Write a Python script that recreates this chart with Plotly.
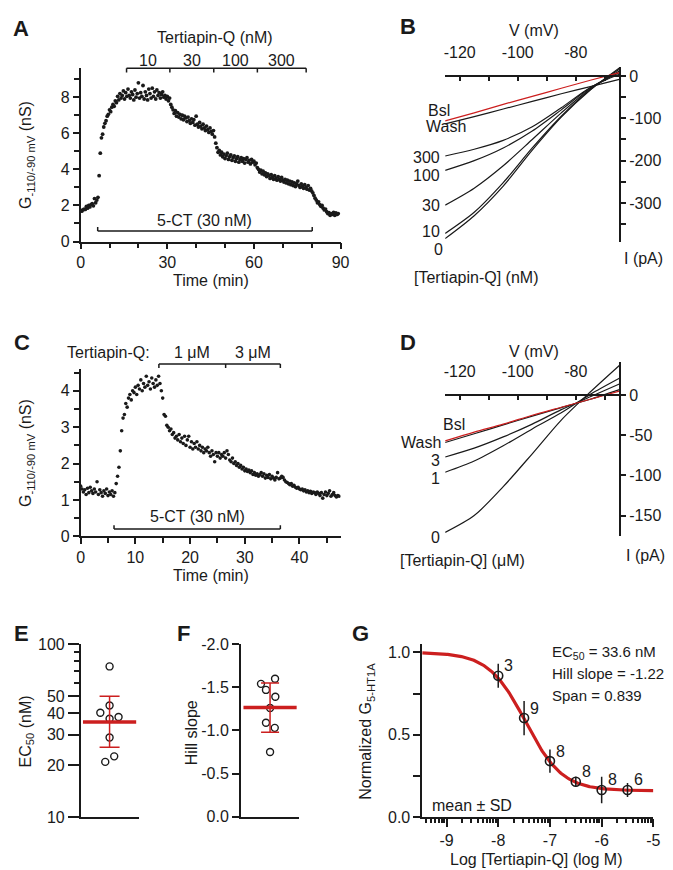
import math
import plotly.graph_objects as go

W, H = 673, 870
FONT = "Liberation Sans, Arial, Helvetica, sans-serif"
INK = "#1a1a1a"
RED = "#cc1f1f"

# ---------------- data ----------------
# Panel A : conductance time course (sampled every 0.4 min)
a_step = 0.4
a_G = [1.72, 1.68, 1.75, 1.80, 1.78, 1.95, 1.85, 2.00, 1.92, 2.05, 2.10, 1.98, 2.38, 2.15, 2.30,
       2.45, 3.65, 4.90, 5.75, 5.95, 6.35, 6.55, 6.70, 6.95, 7.05, 7.30, 7.20, 7.45, 7.60, 7.50,
       7.80, 7.70, 8.05, 7.85, 8.20, 7.95, 8.10, 8.35, 7.90, 8.25, 8.05, 8.45, 8.10, 7.95, 8.30,
       8.15, 7.85, 8.40, 8.00, 8.20, 8.80, 7.95, 8.25, 8.05, 8.65, 7.90, 8.30, 8.10, 7.85, 8.45,
       8.20, 7.95, 8.50, 8.05, 8.30, 7.90, 8.40, 8.10, 8.25, 7.95, 8.15, 8.30, 8.00, 8.10, 7.90,
       8.05, 7.80, 7.95, 7.60, 7.45, 7.30, 7.10, 7.25, 6.95, 7.15, 6.90, 7.05, 6.80, 7.00, 6.75,
       6.95, 6.85, 6.65, 6.90, 6.70, 6.55, 6.80, 6.60, 6.75, 6.45, 6.95, 6.50, 6.35, 6.60, 6.40,
       6.25, 6.50, 6.30, 6.15, 6.40, 6.20, 6.05, 6.30, 6.10, 5.95, 6.15, 5.80, 5.45, 5.20, 4.95,
       5.05, 4.80, 4.95, 4.70, 4.85, 4.60, 4.75, 4.90, 4.55, 4.70, 4.80, 4.50, 4.65, 4.75, 4.45,
       4.60, 4.70, 4.40, 4.55, 4.65, 4.45, 4.60, 4.35, 4.55, 4.65, 4.40, 4.50, 4.30, 4.55, 4.40,
       4.45, 4.25, 4.35, 4.10, 4.00, 3.85, 3.95, 3.75, 3.90, 3.70, 3.80, 3.60, 3.75, 3.65, 3.50,
       3.70, 3.55, 3.45, 3.65, 3.50, 3.40, 3.60, 3.45, 3.35, 3.55, 3.40, 3.30, 3.45, 3.25, 3.40,
       3.20, 3.35, 3.15, 3.30, 3.10, 3.25, 3.05, 3.20, 3.35, 3.10, 3.00, 3.20, 3.05, 2.95, 3.15,
       3.00, 2.90, 3.10, 2.85, 2.95, 2.80, 2.70, 2.55, 2.40, 2.30, 2.15, 2.20, 2.05, 1.95, 2.00,
       1.85, 1.75, 1.80, 1.65, 1.55, 1.60, 1.45, 1.55, 1.50, 1.62, 1.45, 1.58, 1.50, 1.55]
a_time = [round(i * a_step, 2) for i in range(len(a_G))]
a_tq_edges = [15.9, 30.9, 46.1, 61.2, 78.1]
a_tq_labels = ["10", "30", "100", "300"]
a_ct_window = [5.9, 80.2]
a_xticks = [0, 30, 60, 90]
a_xminor = [10, 20, 40, 50, 70, 80]
a_yticks = [0, 2, 4, 6, 8]
a_yminor = [1, 3, 5, 7, 9]

# Panel C : conductance time course (sampled every 0.25 min)
c_step = 0.25
c_G = [1.38, 1.30, 1.22, 1.28, 1.15, 1.32, 1.20, 1.35, 1.25, 1.18, 1.30, 1.22, 1.50, 1.15, 1.28,
       1.20, 1.10, 1.25, 1.18, 1.30, 1.12, 1.22, 1.15, 1.25, 1.10,
       1.20, 1.45, 1.65, 1.90, 2.35, 2.90, 3.25, 3.35, 3.65, 3.55, 3.80, 3.90, 3.75, 4.00, 3.95,
       4.10, 3.90, 4.15, 4.05, 4.30, 4.00, 4.20, 4.10, 4.40, 4.15, 4.25, 4.05, 4.35, 4.20, 4.10,
       4.30, 4.15, 4.40, 4.20, 4.00, 3.80, 3.35, 3.30, 3.05, 3.00, 2.90, 2.95, 2.80, 2.85, 2.70,
       2.75, 2.65, 2.80, 2.60, 2.70, 2.55, 2.75, 2.50, 2.65, 2.75, 2.45, 2.60, 2.40, 2.55, 2.45,
       2.60, 2.40, 2.50, 2.35, 2.45, 2.30, 2.40, 2.35, 2.45, 2.30, 2.20, 2.35, 2.25, 2.05, 2.30,
       2.20, 2.30, 2.15, 2.25, 2.20, 2.30, 2.15, 2.35, 2.25, 2.10, 2.05, 2.15, 2.00, 2.05, 1.95,
       2.00, 1.90, 1.95, 1.85, 1.90, 1.80, 1.85, 1.78, 1.82, 1.75, 1.80, 1.70, 1.75, 1.68, 1.72,
       1.65, 1.70, 1.75, 1.65, 1.72, 1.60, 1.68, 1.62, 1.70, 1.58, 1.65, 1.60, 1.55, 1.62, 1.75,
       1.58, 1.60, 1.65, 1.62, 1.55, 1.50, 1.48, 1.45, 1.42, 1.45, 1.38, 1.40, 1.35, 1.32, 1.35,
       1.30, 1.28, 1.30, 1.25, 1.28, 1.22, 1.25, 1.20, 1.24, 1.18, 1.22, 1.20, 1.15, 1.22, 1.18,
       1.12, 1.20, 1.05, 1.15, 1.22, 1.12, 1.18, 1.25, 1.10, 1.15, 1.20, 1.12, 1.08, 1.12, 1.10]
c_time = [round(i * c_step, 2) for i in range(len(c_G))]
c_tq_edges = [14.3, 26.5, 36.5]
c_tq_labels = ["1 μM", "3 μM"]
c_ct_window = [6.1, 36.5]
c_xticks = [0, 10, 20, 30, 40]
c_xminor = [5, 15, 25, 35, 45]
c_yticks = [0, 1, 2, 3, 4]
c_yminor = [0.5, 1.5, 2.5, 3.5, 4.5]

# Panels B and D : I-V ramps (mV -> pA)
iv_V = [-125, -115, -105, -95, -85, -75, -65]
b_bsl = [-106, -87, -67, -48, -29, -10, 8]
b_wash = [-113, -96, -78, -60, -42, -25, -8]
b_300 = [-189, -173, -152, -120, -75, -27, 4]
b_100 = [-223, -200, -170, -130, -80, -28, 8]
b_30 = [-305, -265, -212, -150, -87, -30, 12]
b_10 = [-372, -322, -252, -170, -95, -32, 16]
b_0 = [-384, -330, -260, -175, -97, -33, 19]

d_bsl = [-57, -46, -36, -25, -15, -5, 5]
d_wash = [-59, -48, -37, -26, -15.5, -5, 7]
d_3 = [-77, -66, -52, -36, -18, -2, 14]
d_1 = [-96, -82, -63, -42, -22, 1, 21]
d_0 = [-171, -150, -114, -73, -31, 4, 37]

iv_xticks = [-120, -100, -80]
iv_xticktext = ["-120", "-100", "-80"]
iv_xminor = [-110, -90, -70]
b_yticks = [0, -100, -200, -300]
b_yticktext = ["0", "-100", "-200", "-300"]
b_yminor = [-50, -150, -250, -350]
d_yticks = [0, -50, -100, -150]
d_yticktext = ["0", "-50", "-100", "-150"]

# Panel E : EC50 per cell (nM)
e_ec50 = [74.4, 44.2, 40.2, 37.1, 38.0, 28.9, 22.5, 20.9]
e_jitter = [0, 0, -0.32, 0, 0.31, 0, 0.16, -0.15]
e_mean = 35.5
e_sd_lo = 25.4
e_sd_hi = 50.0
e_yticks = [10, 20, 30, 40, 50, 100]
e_yminor = [60, 70, 80, 90]

# Panel F : Hill slope per cell
f_hill = [-1.60, -1.54, -1.47, -1.39, -1.26, -1.09, -1.03, -0.75]
f_jitter = [0.17, -0.31, -0.14, 0.18, 0, -0.14, 0.16, 0]
f_mean = -1.265
f_sd = 0.285
f_yticks = [-2.0, -1.5, -1.0, -0.5, 0.0]
f_yticktext = ["-2.0", "-1.5", "-1.0", "-0.5", "0.0"]

# Panel G : concentration-response
g_logc = [-8.0, -7.5, -7.0, -6.5, -6.0, -5.5]
g_mean = [0.859, 0.602, 0.341, 0.216, 0.166, 0.166]
g_sd = [0.073, 0.104, 0.070, 0.030, 0.080, 0.042]
g_n = ["3", "9", "8", "8", "8", "6"]
g_ec50_nM = 33.6
g_hill = -1.22
g_span = 0.839
g_top = 1.0
g_xticks = [-9, -8, -7, -6, -5]
g_xticktext = ["-9", "-8", "-7", "-6", "-5"]
g_yticks = [0.0, 0.5, 1.0]
g_yticktext = ["0.0", "0.5", "1.0"]
g_yminor = [0.25, 0.75]
g_xrange = [-9.47, -5.0]

# ---------------- helpers ----------------
def dom_x(a, b):
    return [a / W, b / W]


def dom_y(top, bottom):
    return [1 - bottom / H, 1 - top / H]


def py(p):
    return 1 - p / H


def axis(**kw):
    d = dict(showline=True, linecolor=INK, linewidth=1.5, showgrid=False, zeroline=False,
             ticks="outside", ticklen=6, tickwidth=1.5, tickcolor=INK, tickmode="array",
             tickfont=dict(family=FONT, size=16, color=INK), fixedrange=True)
    d.update(kw)
    return d


def minor(vals, ticks="outside", length=5):
    return dict(tickmode="array", tickvals=vals, ticks=ticks, ticklen=length,
                tickwidth=1.5, tickcolor=INK, showgrid=False)


ann = []


def label(xp, yp, text, size=16, anchor="center", bold=False, angle=0, xref="paper", xdata=None):
    if bold:
        text = "<b>" + text + "</b>"
    ann.append(dict(x=(xdata if xdata is not None else xp / W), y=py(yp),
                    xref=xref, yref="paper", text=text, showarrow=False,
                    xanchor=anchor, yanchor="middle", textangle=angle,
                    font=dict(family=FONT, size=size, color=INK)))


shapes = []


def seg(xref, x0, x1, y0p, y1p):
    shapes.append(dict(type="line", xref=xref, yref="paper", x0=x0, x1=x1,
                       y0=py(y0p), y1=py(y1p), line=dict(color=INK, width=1.5)))


fig = go.Figure()

# ---------------- A ----------------
fig.add_trace(go.Scatter(x=a_time, y=a_G, mode="markers", xaxis="x", yaxis="y",
                         marker=dict(size=3.8, color=INK), hoverinfo="skip"))
# ---------------- C ----------------
fig.add_trace(go.Scatter(x=c_time, y=c_G, mode="markers", xaxis="x3", yaxis="y3",
                         marker=dict(size=3.6, color=INK), hoverinfo="skip"))
# ---------------- B ----------------
for tr in [b_wash, b_300, b_100, b_30, b_10, b_0]:
    fig.add_trace(go.Scatter(x=iv_V, y=tr, mode="lines", xaxis="x2", yaxis="y2",
                             line=dict(color=INK, width=1.2, shape="spline", smoothing=0.8),
                             hoverinfo="skip"))
fig.add_trace(go.Scatter(x=iv_V, y=b_bsl, mode="lines", xaxis="x2", yaxis="y2",
                         line=dict(color=RED, width=1.2, shape="spline", smoothing=0.8),
                         hoverinfo="skip"))
# ---------------- D ----------------
for tr in [d_wash, d_3, d_1, d_0]:
    fig.add_trace(go.Scatter(x=iv_V, y=tr, mode="lines", xaxis="x4", yaxis="y4",
                             line=dict(color=INK, width=1.2, shape="spline", smoothing=0.8),
                             hoverinfo="skip"))
fig.add_trace(go.Scatter(x=iv_V, y=d_bsl, mode="lines", xaxis="x4", yaxis="y4",
                         line=dict(color=RED, width=1.2, shape="spline", smoothing=0.8),
                         hoverinfo="skip"))
# ---------------- E ----------------
fig.add_trace(go.Scatter(x=e_jitter, y=e_ec50, mode="markers", xaxis="x5", yaxis="y5",
                         marker=dict(size=7, color="white", line=dict(color=INK, width=1.4)),
                         hoverinfo="skip"))
fig.add_trace(go.Scatter(x=[0], y=[e_mean], mode="markers", xaxis="x5", yaxis="y5",
                         marker=dict(symbol="line-ew", size=38, color=RED, line=dict(color=RED, width=3.5)),
                         error_y=dict(type="data", symmetric=False, array=[e_sd_hi - e_mean],
                                      arrayminus=[e_mean - e_sd_lo], color=RED, thickness=1.5, width=10),
                         hoverinfo="skip"))
# ---------------- F ----------------
fig.add_trace(go.Scatter(x=f_jitter, y=f_hill, mode="markers", xaxis="x6", yaxis="y6",
                         marker=dict(size=7, color="white", line=dict(color=INK, width=1.4)),
                         hoverinfo="skip"))
fig.add_trace(go.Scatter(x=[0], y=[f_mean], mode="markers", xaxis="x6", yaxis="y6",
                         marker=dict(symbol="line-ew", size=38, color=RED, line=dict(color=RED, width=3.5)),
                         error_y=dict(type="data", array=[f_sd], color=RED, thickness=1.5, width=9),
                         hoverinfo="skip"))
# ---------------- G ----------------
g_logec50 = math.log10(g_ec50_nM * 1e-9)
g_bottom = g_top - g_span
fit_x = [g_xrange[0] + i * (g_xrange[1] - g_xrange[0]) / 300 for i in range(301)]
fit_y = [g_bottom + g_span / (1 + 10 ** ((g_logec50 - x) * g_hill)) for x in fit_x]
fig.add_trace(go.Scatter(x=fit_x, y=fit_y, mode="lines", xaxis="x7", yaxis="y7",
                         line=dict(color=RED, width=3.2), hoverinfo="skip"))
fig.add_trace(go.Scatter(x=g_logc, y=g_mean, mode="markers", xaxis="x7", yaxis="y7",
                         marker=dict(size=9, color="rgba(0,0,0,0)", line=dict(color=INK, width=1.6)),
                         error_y=dict(type="data", array=g_sd, color=INK, thickness=1.5, width=0),
                         hoverinfo="skip"))
for xv, yv, n in zip(g_logc, g_mean, g_n):
    ann.append(dict(x=xv, y=yv, xref="x7", yref="y7", text=n, showarrow=False,
                    xanchor="left", yanchor="middle", xshift=4, yshift=10,
                    font=dict(family=FONT, size=16, color=INK)))

# ---------------- brackets ----------------
# A tertiapin bracket
seg("x", a_tq_edges[0], a_tq_edges[-1], 53.3, 53.3)
for e in a_tq_edges:
    seg("x", e, e, 53.3, 57.5)
for i, t in enumerate(a_tq_labels):
    label(0, 45, t, xref="x", xdata=(a_tq_edges[i] + a_tq_edges[i + 1]) / 2)
# A 5-CT bracket
seg("x", a_ct_window[0], a_ct_window[1], 219.3, 219.3)
for e in a_ct_window:
    seg("x", e, e, 219.3, 215.3)
label(0, 209, "5-CT (30 nM)", xref="x", xdata=sum(a_ct_window) / 2)
# C tertiapin bracket
seg("x3", c_tq_edges[0], c_tq_edges[-1], 355, 355)
for e in c_tq_edges:
    seg("x3", e, e, 355, 359)
for i, t in enumerate(c_tq_labels):
    label(0, 343, t, xref="x3", xdata=(c_tq_edges[i] + c_tq_edges[i + 1]) / 2)
# C 5-CT bracket
seg("x3", c_ct_window[0], c_ct_window[1], 523.3, 523.3)
for e in c_ct_window:
    seg("x3", e, e, 523.3, 519.3)
label(0, 510, "5-CT (30 nM)", xref="x3", xdata=sum(c_ct_window) / 2)

# ---------------- texts ----------------
for letter, xp, yp in [("A", 9.5, 12.5), ("B", 403.5, 11), ("C", 10.5, 332.5), ("D", 403.5, 333.5),
                       ("E", 9.5, 630), ("F", 174.5, 630), ("G", 355, 630)]:
    label(xp, yp, letter, size=22, bold=True)

label(207, 22, "Tertiapin-Q (nM)")
label(203, 270, "Time (min)")
label(15, 142, "G<sub>-110/-90 mV</sub> (nS)", angle=-90)
label(143, 343, "Tertiapin-Q:", anchor="right")
label(203, 571, "Time (min)")
label(15, 446, "G<sub>-110/-90 mV</sub> (nS)", angle=-90)

label(532, 15, "V (mV)")
label(644, 247, "I (pA)")
label(473, 267, "[Tertiapin-Q] (nM)")
label(435, 96, "Bsl")
label(443, 113, "Wash")
label(438, 144, "300", anchor="right")
label(438, 163, "100", anchor="right")
label(438, 193, "30", anchor="right")
label(438, 220, "10", anchor="right")
label(435, 238, "0")

label(532, 342, "V (mV)")
label(646, 550, "I (pA)")
label(459, 555, "[Tertiapin-Q] (μM)")
label(451, 417, "Bsl")
label(417, 435, "Wash")
label(438, 453, "3", anchor="right")
label(438, 472, "1", anchor="right")
label(438, 532, "0", anchor="right")

label(15, 730, "EC<sub>50</sub> (nM)", angle=-90)
label(183, 731, "Hill slope", angle=-90)
label(362, 730, "Normalized G<sub>5-HT1A</sub>", angle=-90)
label(535, 860, "Log [Tertiapin-Q] (log M)")
label(549, 649, "EC<sub>50</sub> = %.1f nM" % g_ec50_nM, anchor="left", size=15)
label(549, 671, "Hill slope = %.2f" % g_hill, anchor="left", size=15)
label(549, 693, "Span = %.3f" % g_span, anchor="left", size=15)
label(426, 805, "mean ± SD", anchor="left")

# ---------------- axes ----------------
g_xminor = []
for d in range(-10, -5):
    for k in range(2, 10):
        v = d + math.log10(k)
        if g_xrange[0] <= v <= g_xrange[1]:
            g_xminor.append(v)

layout = dict(
    width=W, height=H, autosize=False, margin=dict(l=0, r=0, t=0, b=0),
    paper_bgcolor="white", plot_bgcolor="white", showlegend=False,
    font=dict(family=FONT, size=16, color=INK),
    annotations=ann, shapes=shapes,
    xaxis=axis(domain=dom_x(70, 335), anchor="y", range=[0, 90], tickvals=a_xticks,
               minor=minor(a_xminor)),
    yaxis=axis(domain=dom_y(53.4, 230), anchor="x", range=[0, 9.6], tickvals=a_yticks,
               minor=minor(a_yminor)),
    xaxis2=axis(domain=dom_x(441.7, 619.3), anchor="free", position=py(61.2), side="top",
                range=[-125, -65], tickvals=iv_xticks, ticktext=iv_xticktext, ticks="inside",
                ticklen=4.5, ticklabelstandoff=11, minor=minor(iv_xminor, ticks="inside", length=4.5)),
    yaxis2=axis(domain=dom_y(51.7, 230), anchor="x2", side="right", range=[-391, 22],
                tickvals=b_yticks, ticktext=b_yticktext, ticklen=5, ticklabelstandoff=0,
                minor=minor(b_yminor, length=5)),
    xaxis3=axis(domain=dom_x(70, 335), anchor="y3", range=[0, 47.5], tickvals=c_xticks,
                minor=minor(c_xminor)),
    yaxis3=axis(domain=dom_y(360, 530.7), anchor="x3", range=[0, 4.6], tickvals=c_yticks,
                minor=minor(c_yminor)),
    xaxis4=axis(domain=dom_x(441.7, 619.3), anchor="free", position=py(386.7), side="top",
                range=[-125, -65], tickvals=iv_xticks, ticktext=iv_xticktext, ticks="inside",
                ticklen=4.5, ticklabelstandoff=11, minor=minor(iv_xminor, ticks="inside", length=4.5)),
    yaxis4=axis(domain=dom_y(352.7, 530), anchor="x4", side="right", range=[-175, 41.6],
                tickvals=d_yticks, ticktext=d_yticktext, ticklen=5, ticklabelstandoff=0),
    xaxis5=axis(domain=dom_x(70, 129), anchor="y5", range=[-1, 1], ticks="", showticklabels=False),
    yaxis5=axis(domain=dom_y(640.7, 817.3), anchor="x5", type="log", range=[1, 2],
                tickvals=e_yticks, ticktext=[str(v) for v in e_yticks], ticklen=11,
                minor=minor(e_yminor, length=5)),
    xaxis6=axis(domain=dom_x(233.3, 293), anchor="y6", range=[-1, 1], ticks="", showticklabels=False),
    yaxis6=axis(domain=dom_y(640.7, 816.7), anchor="x6", range=[0, -2],
                tickvals=f_yticks, ticktext=f_yticktext, ticklen=7),
    xaxis7=axis(domain=dom_x(418.3, 654), anchor="y7", range=g_xrange,
                tickvals=g_xticks, ticktext=g_xticktext, ticklen=8,
                minor=minor(g_xminor, length=4)),
    yaxis7=axis(domain=dom_y(640.7, 817.3), anchor="x7", range=[0, 1.05],
                tickvals=g_yticks, ticktext=g_yticktext, ticklen=7,
                minor=minor(g_yminor, length=7)),
)
fig.update_layout(**layout)
fig.write_html("out.html")
